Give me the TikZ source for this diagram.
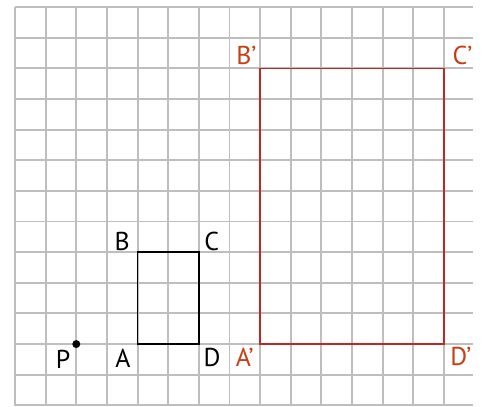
\documentclass[tikz,border=0pt]{standalone}
\usepackage{fontspec}
\setmainfont{PT Sans}
\usetikzlibrary{calc}
\definecolor{gridgray}{RGB}{190,190,190}
\definecolor{imgred}{RGB}{190,40,36}
\definecolor{lblred}{RGB}{200,62,20}
\begin{document}
\begin{tikzpicture}[x=1cm,y=1cm,
  gridline/.style={draw=gridgray,line width=1.8pt},
  orig/.style={draw=black,line width=1.3pt},
  image/.style={draw=imgred,line width=1.3pt},
  lbl/.style={inner sep=0pt,font=\fontsize{24}{28}\selectfont},
  rlbl/.style={lbl,text=lblred}]
\useasboundingbox[fill=white] (-0.49,0.228) rectangle (15.37,-13.05);
% grid
\foreach \i in {0,...,14} \draw[gridline] (\i,0) -- (\i,-13.02);
\foreach \j in {0,...,13} \draw[gridline] (0,-\j) -- (14.94,-\j);
% points
\coordinate (P) at (2,-11);
\coordinate (A) at (4,-11);
\coordinate (B) at (4,-8);
\coordinate (C) at (6,-8);
\coordinate (D) at (6,-11);
\coordinate (A') at (8,-11);
\coordinate (B') at (8,-2);
\coordinate (C') at (14,-2);
\coordinate (D') at (14,-11);
% shapes
\draw[orig] (A) -- (B) -- (C) -- (D) -- cycle;
\draw[image] (A') -- (B') -- (C') -- (D') -- cycle;
\fill (P) circle (0.13);
% labels
\node[lbl] (lP) at ($(P)+(-0.43,-0.5)$) {P};
\node[lbl] (lA) at ($(A)+(-0.48,-0.45)$) {A};
\node[lbl] (lD) at ($(D)+(0.43,-0.45)$) {D};
\node[lbl] (lB) at ($(B)+(-0.5,0.35)$) {B};
\node[lbl] (lC) at ($(C)+(0.42,0.35)$) {C};
\node[rlbl] (lA') at ($(A')+(-0.5,-0.42)$) {A’};
\node[rlbl] (lD') at ($(D')+(0.55,-0.42)$) {D’};
\node[rlbl] (lB') at ($(B')+(-0.45,0.42)$) {B’};
\node[rlbl] (lC') at ($(C')+(0.6,0.42)$) {C’};
\end{tikzpicture}
\end{document}
